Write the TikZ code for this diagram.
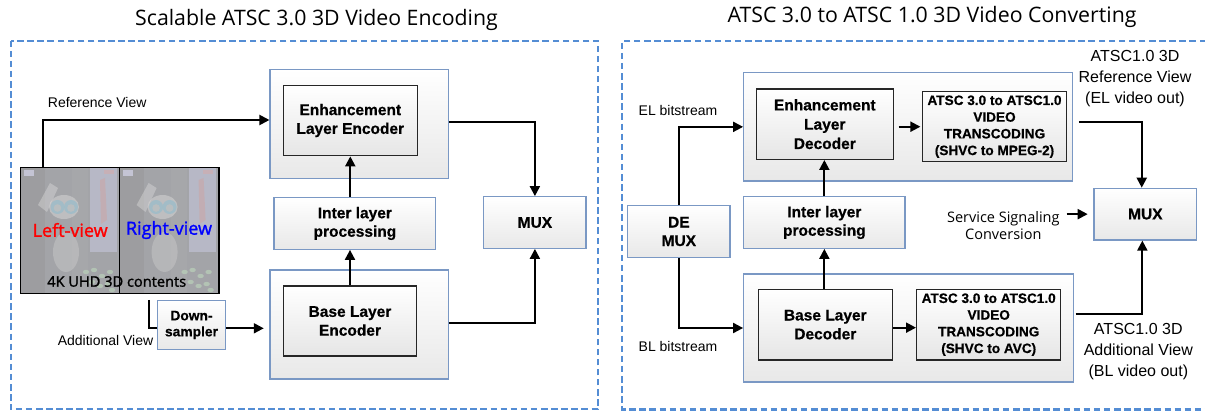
\documentclass[tikz,border=0pt]{standalone}
\usepackage{fontspec}
\setmainfont[BoldFeatures={FakeBold=0.6}]{Liberation Sans}
\newfontfamily\osans{Open Sans}
\newfontfamily\osansb[FakeBold=1.4]{Open Sans}
\usetikzlibrary{arrows.meta,calc}
\definecolor{dashblue}{RGB}{84,141,212}
\definecolor{boxblue}{RGB}{122,152,196}
\definecolor{photobg}{RGB}{163,164,168}
\tikzset{
  outer/.style={draw=boxblue, line width=1.2pt, top color=white, bottom color=black!9, inner sep=0pt},
  inner/.style={draw=black!85, line width=1.4pt, top color=white, bottom color=black!10, inner sep=0pt, align=center,
    font=\fontsize{15.5}{18.8}\selectfont\bfseries},
  plain/.style={draw=boxblue, line width=1.2pt, top color=white, bottom color=black!9, inner sep=0pt, align=center,
    font=\fontsize{15.5}{18.5}\selectfont\bfseries},
  trans/.style={draw=black!85, line width=1.4pt, top color=white, bottom color=black!10, inner sep=0pt, align=center,
    font=\fontsize{13.6}{16.7}\selectfont\bfseries},
  lbl/.style={inner sep=0pt, align=center, font=\fontsize{14}{16}\selectfont},
  biglbl/.style={inner sep=0pt, align=center, font=\fontsize{16}{21}\selectfont},
  titlelbl/.style={inner sep=0pt, font=\osans\fontsize{21.3}{24}\selectfont},
  conn/.style={line width=2pt, line join=miter},
  arr/.style={conn, -{Triangle[length=10pt,width=10pt]}},
  dashframe/.style={draw=dashblue, line width=2.3pt, dash pattern=on 6.5pt off 3.6pt},
}
\begin{document}
\begin{tikzpicture}[x=1pt,y=-1pt]
\useasboundingbox (0,0) rectangle (1205,411);
\fill[white] (0,0) rectangle (1205,411);

% ---------- titles ----------
\node[titlelbl] (t1) at (316.5,19.5) {Scalable ATSC 3.0 3D Video Encoding};
\node[titlelbl] (t2) at (932,16.5) {ATSC 3.0 to ATSC 1.0 3D Video Converting};

% ---------- dashed frames ----------
\draw[dashframe] (10.7,40.7) rectangle (598,409.3);
\draw[dashframe] (1206,40.7) -- (622.3,40.7) -- (622.3,409.6) -- (1206,409.6);

% ---------- photo (left panel) ----------
\fill[photobg] (20.7,167.3) rectangle (219,293.3);
\foreach \dx in {0,98.6}{
  \begin{scope}[xshift=\dx pt]
    \fill[black!45,opacity=0.25] (20.7,167.3) rectangle (45,293.3);
    \fill[black!30,opacity=0.25] (72,167.3) rectangle (88,293.3);
    \fill[black!15,opacity=0.45] (38,205) -- (50,183) -- (58,188) -- (47,212) -- cycle;
    \fill[black!15,opacity=0.5] (64,207) ellipse (15pt and 12pt);
    \fill[black!20,opacity=0.45] (66,252) ellipse (13pt and 20pt);
    \fill[cyan!35!gray!70,opacity=0.8] (57.5,207) circle (7pt);
    \fill[cyan!35!gray!70,opacity=0.8] (71,207) circle (7pt);
    \fill[gray!50,opacity=0.8] (57.5,208) circle (3.8pt);
    \fill[gray!50,opacity=0.8] (71,208) circle (3.8pt);
    \fill[blue!15!gray!45,opacity=0.8] (90,168) rectangle (117,252);
    \fill[red!25!gray!55,opacity=0.6] (100,180) -- (105,178) -- (107,220) -- (101,224) -- cycle;
    \fill[red!30!gray!50,opacity=0.6] (104,170) rectangle (114,174);
    \fill[blue!15!gray!40] (24,170) rectangle (34,176);
    \foreach \bx/\by in {86/272,94/270,102/276,110/272,92/282,100/286,108/284,112/290}{
      \fill[green!20!gray!45,opacity=0.7] (\bx,\by) ellipse (3.2pt and 2.2pt);
    }
  \end{scope}
}
\node[draw=black, line width=1.4pt, inner sep=0pt, minimum width=198.3pt, minimum height=126pt] (img) at (119.85,230.3) {};
\draw[line width=1.1pt] ([xshift=-0.5pt]img.north) -- ([xshift=-0.5pt]img.south);
\node[inner sep=0pt, text=red, font=\osansb\fontsize{18}{20}\selectfont] (lv) at (70.2,230) {Left-view};
\node[inner sep=0pt, text=blue, font=\osansb\fontsize{18}{20}\selectfont] (rv) at (169,230) {Right-view};
\node[inner sep=0pt, font=\osansb\fontsize{14.6}{16}\selectfont] (uhd) at (116.7,281.5) {4K UHD 3D contents};

% ---------- left panel boxes ----------
\node[outer, minimum width=178.3pt, minimum height=109pt] (EnhO) at (359.2,123.8) {};
\node[inner, minimum width=134pt, minimum height=70.4pt] (EnhI) at (350.3,120.5) {Enhancement\\Layer Encoder};
\node[plain, minimum width=161.7pt, minimum height=51.6pt] (Inter) at (354.9,223.5) {Inter layer\\processing};
\node[outer, minimum width=178.3pt, minimum height=109pt] (BaseO) at (359.2,324.5) {};
\node[inner, minimum width=133.4pt, minimum height=70pt] (BaseI) at (350,321) {Base Layer\\Encoder};
\node[plain, minimum width=102.3pt, minimum height=51.6pt] (MUXa) at (534.9,222.5) {MUX};
\node[plain, minimum width=67.6pt, minimum height=48.6pt, font=\fontsize{13.8}{16}\selectfont\bfseries] (Down) at (191.5,325) {Down-\\sampler};

\node[lbl] (refv) at (97.2,102.7) {Reference View};
\node[lbl] (addv) at (105.5,340.7) {Additional View};

% ---------- left panel connectors ----------
\draw[arr] ([xshift=22.6pt]img.north west) |- ([yshift=3.8pt]EnhO.west);
\coordinate (addst) at (148.7,300);
\draw[conn] (addst) |- ([yshift=-3.3pt]Down.west);
\draw[arr, shorten >=5.7pt] ([yshift=-3.3pt]Down.east) -- ([yshift=-3.3pt]Down.east -| BaseO.west);
\draw[arr] ([yshift=1.8pt]EnhO.east) -| (MUXa.north);
\draw[arr] ([yshift=1.2pt]BaseO.east) -| (MUXa.south);
\draw[arr] (Inter.north -| EnhI.south) -- (EnhI.south);
\draw[arr] (BaseI.north) -- (BaseI.north |- Inter.south);

% ---------- right panel boxes ----------
\node[outer, minimum width=328.6pt, minimum height=108.3pt] (EnhO2) at (908,126.85) {};
\node[inner, minimum width=137pt, minimum height=70.3pt, font=\fontsize{15.5}{19.3}\selectfont\bfseries] (EnhI2) at (824.8,124.15) {Enhancement\\Layer\\Decoder};
\node[trans, minimum width=144.4pt, minimum height=70pt] (Tr1) at (994.5,126.7) {ATSC 3.0 to ATSC1.0\\VIDEO\\TRANSCODING\\(SHVC to MPEG-2)};
\node[plain, minimum width=161.3pt, minimum height=51.6pt] (Inter2) at (824.35,222.5) {Inter layer\\processing};
\node[plain, minimum width=102.3pt, minimum height=51.6pt] (DEMUX) at (678.85,231.5) {DE\\MUX};
\node[outer, minimum width=329.6pt, minimum height=108pt] (BaseO2) at (908.5,328) {};
\node[inner, minimum width=134pt, minimum height=70.7pt] (BaseI2) at (825.3,324.65) {Base Layer\\Decoder};
\node[trans, minimum width=144pt, minimum height=70.7pt] (Tr2) at (988.7,324.65) {ATSC 3.0 to ATSC1.0\\VIDEO\\TRANSCODING\\(SHVC to AVC)};
\node[plain, minimum width=102.7pt, minimum height=51.7pt] (MUXb) at (1145.35,214.15) {MUX};

\node[lbl] (elb) at (678,110) {EL bitstream};
\node[lbl] (blb) at (678,346.7) {BL bitstream};
\node[biglbl] (refout) at (1135,79) {ATSC1.0 3D\\Reference View\\(EL video out)};
\node[biglbl] (addout) at (1138.3,351.2) {ATSC1.0 3D\\Additional View\\(BL video out)};
\node[inner sep=0pt, align=center, font=\osans\fontsize{14.5}{17.3}\selectfont] (svc) at (1003.3,225.3) {Service Signaling\\Conversion};

% ---------- right panel connectors ----------
\draw[arr] (DEMUX.north) |- (EnhO2.west);
\draw[arr] (DEMUX.south) |- (BaseO2.west);
\draw[arr] (Inter2.north) -- (Inter2.north |- EnhI2.south);
\draw[arr] (BaseI2.north -| Inter2.south) -- (Inter2.south);
\draw[arr, shorten <=4.5pt, shorten >=1.2pt] (EnhI2.east |- Tr1.west) -- (Tr1.west);
\draw[arr] ([yshift=-3pt]BaseI2.east) -- ([yshift=-3pt]Tr2.west);
\draw[arr, shorten <=6pt] ([yshift=5.15pt]EnhO2.east) -| ([xshift=-3.6pt]MUXb.north);
\draw[arr, shorten <=1.7pt] ([yshift=13.7pt]BaseO2.east) -| ([xshift=-3pt]MUXb.south);
\coordinate (svcout) at (1066.7,214.15);
\draw[arr, shorten >=5.7pt] (svcout) -- (MUXb.west);
\end{tikzpicture}
\end{document}
